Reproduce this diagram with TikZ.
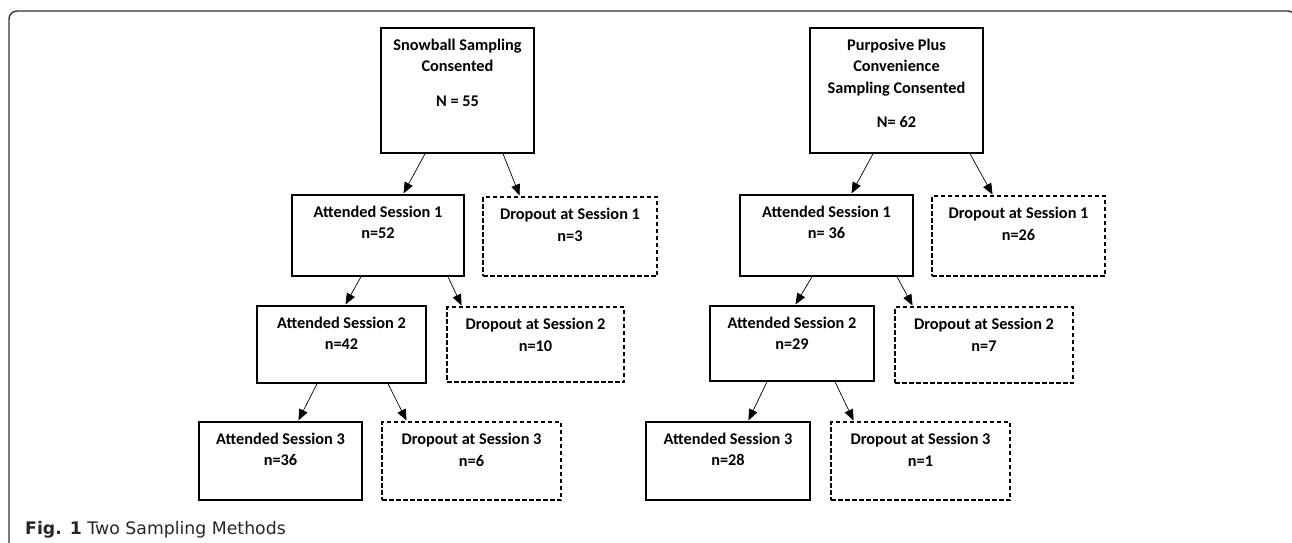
\documentclass[tikz,border=0pt]{standalone}
\usepackage{fontspec}
\setmainfont{Carlito}
\newfontfamily\captionfont{DejaVu Sans}
\usetikzlibrary{arrows.meta}
\begin{document}
\begin{tikzpicture}[
	x=1pt, y=-1pt,
	solidbox/.style={draw=black, line width=1.5pt, inner sep=0pt},
	dashbox/.style={draw=black, line width=1.2pt, dash pattern=on 4.5pt off 2.5pt, inner sep=0pt},
	boxtext/.style={anchor=north, inner sep=0pt, yshift=-11.5pt, align=center, font=\fontsize{16.3}{21.5}\selectfont\bfseries},
	flow/.style={draw=black, line width=0.7pt, -{Triangle[length=11pt, width=9pt]}, shorten >=1pt}
	]
	\useasboundingbox (0,0) rectangle (1292,542);

	% frame
	\draw[line width=1.4pt, color=black!80, rounded corners=8pt] (9,548) -- (9,11) -- (1296,11) -- (1296,40);

	% snowball tree
	\node[solidbox, minimum width=153pt, minimum height=125pt] (lsnow) at (457.5,90.5) {};
	\node[boxtext] (lsnowtext) at (lsnow.north) {Snowball Sampling\\Consented\\[13pt]N = 55};
	\node[solidbox, minimum width=172pt, minimum height=81pt] (las1) at (378,235.5) {};
	\node[boxtext] (las1text) at (las1.north) {Attended Session 1\\n=52};
	\node[dashbox, minimum width=174pt, minimum height=79pt] (lds1) at (570,236.5) {};
	\node[boxtext] (lds1text) at (lds1.north) {Dropout at Session 1\\n=3};
	\node[solidbox, minimum width=169pt, minimum height=77pt] (las2) at (341.5,344.5) {};
	\node[boxtext] (las2text) at (las2.north) {Attended Session 2\\n=42};
	\node[dashbox, minimum width=177pt, minimum height=75pt] (lds2) at (535.5,344.5) {};
	\node[boxtext] (lds2text) at (lds2.north) {Dropout at Session 2\\n=10};
	\node[solidbox, minimum width=163pt, minimum height=78pt] (las3) at (280.5,461) {};
	\node[boxtext] (las3text) at (las3.north) {Attended Session 3\\n=36};
	\node[dashbox, minimum width=179pt, minimum height=78pt] (lds3) at (471.5,461) {};
	\node[boxtext] (lds3text) at (lds3.north) {Dropout at Session 3\\n=6};

	\draw[flow] ([xshift=-32.5pt]lsnow.south) -- ([xshift=25pt]las1.north);
	\draw[flow] ([xshift=45.5pt]lsnow.south) -- ([xshift=-50pt]lds1.north);
	\draw[flow] ([xshift=-17pt]las1.south) -- ([xshift=3.5pt]las2.north);
	\draw[flow] ([xshift=70pt]las1.south) -- ([xshift=-73.5pt]lds2.north);
	\draw[flow] ([xshift=-24.5pt]las2.south) -- ([xshift=17.5pt]las3.north);
	\draw[flow] ([xshift=46.5pt]las2.south) -- ([xshift=-64.5pt]lds3.north);

	% purposive tree
	\node[solidbox, minimum width=173pt, minimum height=125pt] (rpurp) at (896.5,90.5) {};
	\node[boxtext] (rpurptext) at (rpurp.north) {Purposive Plus\\Convenience\\Sampling Consented\\[13pt]N= 62};
	\node[solidbox, minimum width=173pt, minimum height=81pt] (ras1) at (826.5,235.5) {};
	\node[boxtext] (ras1text) at (ras1.north) {Attended Session 1\\n= 36};
	\node[dashbox, minimum width=173pt, minimum height=80pt] (rds1) at (1018.5,236) {};
	\node[boxtext] (rds1text) at (rds1.north) {Dropout at Session 1\\n=26};
	\node[solidbox, minimum width=164pt, minimum height=75pt] (ras2) at (792,343.5) {};
	\node[boxtext] (ras2text) at (ras2.north) {Attended Session 2\\n=29};
	\node[dashbox, minimum width=178pt, minimum height=76pt] (rds2) at (984,345) {};
	\node[boxtext] (rds2text) at (rds2.north) {Dropout at Session 2\\n=7};
	\node[solidbox, minimum width=164pt, minimum height=78pt] (ras3) at (728,461) {};
	\node[boxtext] (ras3text) at (ras3.north) {Attended Session 3\\n=28};
	\node[dashbox, minimum width=179pt, minimum height=78pt] (rds3) at (920.5,461) {};
	\node[boxtext] (rds3text) at (rds3.north) {Dropout at Session 3\\n=1};

	\draw[flow] ([xshift=-23.5pt]rpurp.south) -- ([xshift=24.5pt]ras1.north);
	\draw[flow] ([xshift=73.5pt]rpurp.south) -- ([xshift=-25.5pt]rds1.north);
	\draw[flow] ([xshift=-14.5pt]ras1.south) -- ([xshift=3pt]ras2.north);
	\draw[flow] ([xshift=70.5pt]ras1.south) -- ([xshift=-71pt]rds2.north);
	\draw[flow] ([xshift=-25pt]ras2.south) -- ([xshift=20pt]ras3.north);
	\draw[flow] ([xshift=43pt]ras2.south) -- ([xshift=-66.5pt]rds3.north);

	% caption
	\node[anchor=base west, inner sep=0pt, font=\captionfont\fontsize{17.3}{20}\selectfont, text=black!85] (caption) at (25,534) {\textbf{Fig. 1} Two Sampling Methods};
\end{tikzpicture}
\end{document}
